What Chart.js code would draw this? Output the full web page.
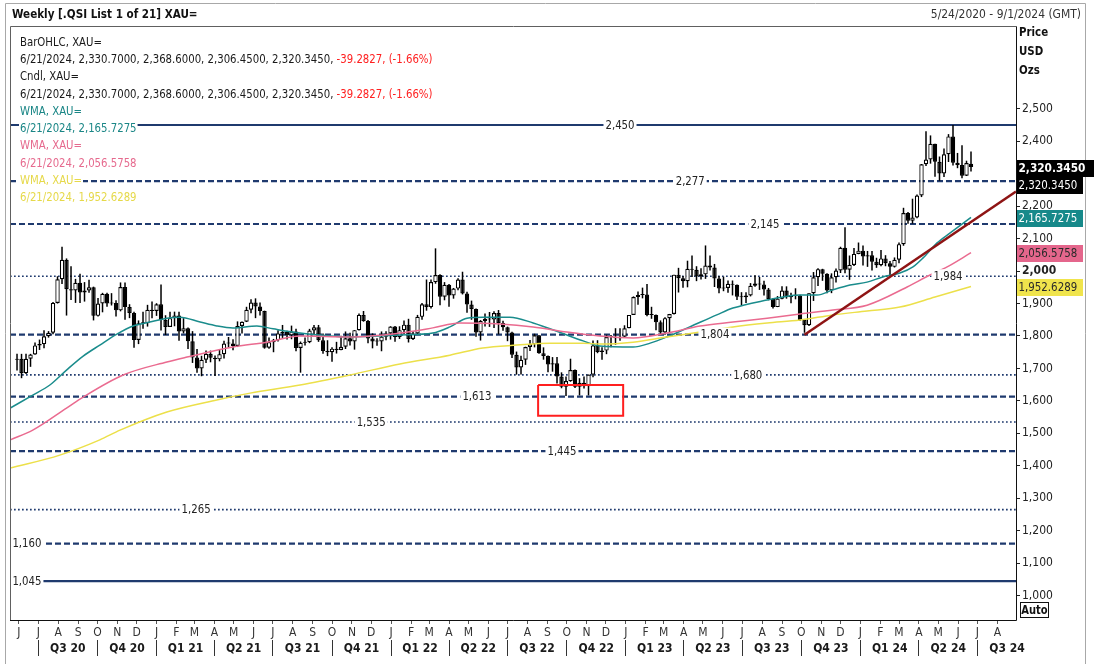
<!DOCTYPE html>
<html><head><meta charset="utf-8">
<script src="https://cdn.jsdelivr.net/npm/chart.js@4.4.1/dist/chart.umd.min.js"></script>
<style>
html,body{margin:0;padding:0;background:#fff;}
#wrap{position:relative;width:1094px;height:664px;overflow:hidden;}
canvas{display:block;}
</style></head><body>
<div id="wrap"><canvas id="c" width="1094" height="664"></canvas></div>
<script>
const FONT = "'Liberation Sans Narrow','DejaVu Sans Condensed','Liberation Sans',sans-serif";

// ---- weekly candles, first candle week ending 2020-05-29 ----
const firstCandleDate = [2020, 5, 29];
const opens = [1727,1730,1685,1730,1743,1771,1775,1799,1810,1902,1975,2035,1944,1940,1964,1934,1940,1950,1862,1900,1930,1900,1902,1879,1951,1889,1871,1788,1839,1839,1881,1877,1898,1849,1828,1855,1863,1814,1824,1784,1734,1700,1727,1745,1733,1728,1744,1777,1777,1769,1831,1844,1881,1903,1891,1877,1764,1781,1787,1808,1812,1802,1814,1763,1779,1781,1817,1827,1787,1754,1750,1761,1757,1767,1793,1783,1818,1865,1846,1792,1783,1783,1798,1808,1829,1797,1818,1835,1791,1808,1859,1898,1889,1966,1988,1921,1958,1925,1946,1974,1931,1897,1883,1811,1846,1853,1851,1871,1840,1827,1811,1742,1703,1727,1766,1775,1802,1747,1738,1712,1716,1675,1644,1661,1695,1644,1656,1645,1681,1771,1751,1755,1797,1797,1793,1798,1824,1865,1920,1926,1928,1865,1865,1842,1811,1855,1868,1989,1978,1969,2007,2004,1983,1990,2017,2011,1977,1946,1948,1961,1958,1921,1919,1925,1955,1962,1959,1943,1914,1889,1915,1940,1919,1924,1925,1849,1833,1932,1981,2006,1992,1940,1981,2002,2072,2004,2019,2053,2063,2045,2049,2029,2018,2039,2024,2013,2035,2083,2179,2155,2165,2233,2329,2344,2392,2337,2301,2360,2415,2334,2327,2294,2330.7];
const highs = [1745,1745,1745,1745,1780,1789,1818,1815,1905,1984,2075,2039,2015,1976,1992,1966,1973,1952,1917,1933,1933,1932,1910,1965,1965,1898,1875,1848,1875,1896,1906,1901,1959,1864,1875,1875,1875,1855,1826,1815,1760,1739,1755,1755,1740,1759,1785,1797,1790,1845,1845,1890,1913,1916,1903,1878,1795,1791,1818,1834,1816,1832,1822,1783,1795,1822,1834,1834,1808,1787,1765,1782,1801,1814,1810,1818,1869,1877,1849,1808,1793,1814,1815,1830,1831,1830,1848,1853,1815,1865,1902,1974,1974,2070,1990,1966,1960,1948,1978,1998,1936,1909,1885,1849,1869,1874,1876,1880,1847,1829,1813,1752,1739,1767,1788,1807,1802,1765,1740,1735,1735,1688,1675,1730,1697,1670,1675,1681,1786,1787,1765,1804,1803,1824,1824,1833,1865,1922,1937,1949,1960,1890,1866,1848,1858,1868,1989,2010,1985,2032,2048,2015,2009,2079,2048,2022,1985,1983,1971,1971,1959,1935,1935,1963,1987,1982,1970,1948,1916,1923,1953,1953,1933,1947,1927,1850,1932,1997,2009,2007,1993,1993,2008,2075,2135,2048,2071,2088,2079,2062,2062,2041,2065,2049,2031,2042,2088,2195,2182,2223,2236,2330,2431,2418,2392,2353,2378,2422,2450,2364,2388,2340,2368.6];
const lows = [1694,1670,1683,1705,1742,1757,1762,1795,1805,1900,1960,1863,1911,1902,1902,1906,1933,1848,1860,1873,1890,1894,1860,1876,1850,1855,1764,1775,1822,1829,1855,1862,1817,1803,1828,1830,1785,1808,1760,1717,1687,1676,1717,1719,1677,1722,1731,1765,1756,1766,1808,1843,1870,1855,1863,1761,1761,1750,1783,1794,1789,1790,1753,1687,1771,1778,1802,1782,1745,1738,1721,1746,1756,1760,1771,1758,1817,1844,1778,1762,1770,1753,1787,1789,1782,1791,1805,1780,1788,1806,1850,1878,1885,1961,1895,1910,1890,1915,1941,1928,1872,1850,1798,1786,1829,1828,1825,1805,1816,1784,1732,1681,1681,1711,1754,1765,1745,1727,1688,1690,1654,1639,1615,1659,1640,1617,1638,1617,1673,1747,1727,1744,1765,1773,1785,1797,1824,1865,1896,1916,1861,1853,1818,1804,1804,1809,1866,1934,1949,1950,1982,1969,1974,1976,2002,1951,1932,1938,1933,1925,1911,1893,1902,1922,1952,1942,1925,1910,1885,1889,1913,1915,1901,1913,1846,1810,1831,1908,1954,1970,1932,1932,1965,1994,1993,1973,2016,2052,2017,2013,2002,2010,2015,2015,1984,2011,2024,2078,2146,2146,2163,2228,2324,2331,2291,2278,2290,2336,2325,2317,2286,2293,2306.45];
const closes = [1730,1685,1730,1743,1771,1775,1799,1810,1902,1975,2035,1944,1940,1964,1934,1940,1950,1862,1900,1930,1900,1902,1879,1951,1889,1871,1788,1839,1839,1881,1877,1898,1849,1828,1855,1863,1814,1824,1784,1734,1700,1727,1745,1733,1728,1744,1777,1777,1769,1831,1844,1881,1903,1891,1877,1764,1781,1787,1808,1812,1802,1814,1763,1779,1781,1817,1827,1787,1754,1750,1761,1757,1767,1793,1783,1818,1865,1846,1792,1783,1783,1798,1808,1829,1797,1818,1835,1791,1808,1859,1898,1889,1966,1988,1921,1958,1925,1946,1974,1931,1897,1883,1811,1846,1853,1851,1871,1840,1827,1811,1742,1703,1727,1766,1775,1802,1747,1738,1712,1716,1675,1644,1661,1695,1644,1656,1645,1681,1771,1751,1755,1797,1797,1793,1798,1824,1865,1920,1926,1928,1865,1865,1842,1811,1855,1868,1989,1978,1969,2007,2004,1983,1990,2017,2011,1977,1946,1948,1961,1958,1921,1919,1925,1955,1962,1959,1943,1914,1889,1915,1940,1919,1924,1925,1849,1833,1932,1981,2006,1992,1940,1981,2002,2072,2004,2019,2053,2063,2045,2049,2029,2018,2039,2024,2013,2035,2083,2179,2155,2165,2233,2329,2344,2392,2337,2301,2360,2415,2334,2327,2294,2333,2320.345];

// ---- weighted moving averages (week index, price) ----
const wmaFastWeeks  = [-1.5,3.5,7.3,11,14.7,18.4,22.2,25.8,29.5,33.3,36.2,40.7,44.4,48,53.3,56.9,62.9,74,85,92.4,96.2,100,103.5,109.5,114.7,122.2,125.8,129.5,136.9,140.7,144.4,149.5,155.5,159.1,166.7,170.2,174,177.8,181.3,185.1,188.9,192.4,196.2,199.1,201.3,204.4,207.3,212];
const wmaFastValues = [1578,1618,1649,1695,1738,1772,1806,1831,1843,1855,1858,1843,1831,1825,1831,1822,1809,1797,1803,1809,1828,1855,1858,1858,1840,1803,1785,1769,1766,1778,1797,1828,1865,1886,1911,1920,1926,1926,1942,1957,1966,1982,1994,2013,2040,2086,2117,2165.7275];
const wmaMidWeeks   = [-1.5,3.5,11,14.7,23.6,33.3,37.8,48,55.5,62.9,74,85,92.4,98.4,107.3,114.7,122.2,129.5,136.9,144.4,151.8,159.1,166.7,174,181.3,188.9,197.8,202.9,206.7,212];
const wmaMidValues  = [1480,1510,1578,1612,1680,1720,1735,1766,1781,1800,1797,1809,1825,1840,1837,1828,1812,1800,1794,1809,1831,1843,1855,1868,1880,1895,1951,1988,2013,2056.5758];
const wmaSlowWeeks  = [-1.5,9.5,18.4,22.9,33.3,44.4,51.8,62.9,74,85.1,96.2,103.5,111.1,118.4,125.8,129.5,136.9,144.4,151.8,159.1,166.7,174,181.3,188.9,196.2,204,212];
const wmaSlowValues = [1393,1433,1480,1510,1566,1603,1624,1649,1680,1714,1741,1763,1772,1778,1778,1775,1781,1797,1812,1828,1840,1849,1865,1877,1889,1920,1952.6289];

// ---- horizontal levels ----
const levelValues = [2450,2277,2145,1984,1804,1680,1613,1535,1445,1265,1160,1045];
const levelKinds  = ['solid','dash','dash','dot','dash','dot','dash','dot','dash','dot','dash','solid'];
const levelLabelAt = [134,149.6,166.2,206.9,155.1,162.4,102.2,78.7,121.1,39.8,2.2,2.2];

// ---- trend line & highlight box (data units) ----
const trendWeeks = [175, 222];
const trendPrices = [1804, 2245];
const boxWeeks = [115.8, 134.7];
const boxPrices = [1554, 1649];

// ---- axis ticks ----
const yTickValues = [1000,1100,1200,1300,1400,1500,1600,1700,1800,1900,2000,2100,2200,2300,2400,2500];
const monthLabels = ['J','J','A','S','O','N','D',
  'J','F','M','A','M','J','J','A','S','O','N','D',
  'J','F','M','A','M','J','J','A','S','O','N','D',
  'J','F','M','A','M','J','J','A','S','O','N','D',
  'J','F','M','A','M','J','J','A'];
const quarterLabels = ['Q3 20','Q4 20','Q1 21','Q2 21','Q3 21','Q4 21','Q1 22','Q2 22','Q3 22','Q4 22','Q1 23','Q2 23','Q3 23','Q4 23','Q1 24','Q2 24','Q3 24'];

// ---- legend / tags ----
const lastDate = '6/21/2024';
const dayChange = -39.2827, dayChangePct = -1.66;
const wmaLast = [2165.7275, 2056.5758, 1952.6289];
const wmaColors = ['#1a8c8c', '#ea6b90', '#ece04a'];
const wmaTextColors = ['#1a8686', '#e66a8e', '#e6d94a'];

// ---------------------------------------------------------------
const t0 = Date.UTC(firstCandleDate[0], firstCandleDate[1]-1, firstCandleDate[2]);
const weekOf = (y, m, d) => (Date.UTC(y, m-1, d) - t0) / (7*86400000);
const xMin = -1.56, xMax = 222.0, yMin = 925, yMax = 2752;

const monthTickWeeks = monthLabels.map((_, i) => { const mm = 5 + i; return weekOf(2020 + Math.floor(mm/12), (mm%12)+1, 1); });
const x2Ticks = [];
quarterLabels.forEach((lab, q) => {
  const mm = 6 + 3*q, mm2 = mm + 3;
  const s = weekOf(2020 + Math.floor(mm/12), (mm%12)+1, 1);
  const e = weekOf(2020 + Math.floor(mm2/12), (mm2%12)+1, 1);
  x2Ticks.push({value: s, sep: true, lab: ''});
  x2Ticks.push({value: (s+e)/2, sep: false, lab: lab});
});

const fmt = (v, d) => v.toLocaleString('en-US', {minimumFractionDigits: d, maximumFractionDigits: d});
const pairs = (xs, ys) => xs.map((x, i) => ({x, y: ys[i]}));
const NAVY = '#1f3a6e';

const idx = opens.map((_, i) => i);
const datasets = [];
levelValues.forEach((v, i) => {
  const k = levelKinds[i];
  datasets.push({type:'line', data:[{x:xMin,y:v},{x:xMax,y:v}], borderColor:NAVY,
    borderWidth: k==='dot' ? 1.7 : 2.2, borderDash: k==='dash' ? [6,3] : (k==='dot' ? [1.7,2.3] : []),
    pointRadius:0, order:10});
});
datasets.push({type:'bar', data: idx.map(i => ({x:i, y:[lows[i], highs[i]]})), backgroundColor:'#000',
  borderWidth:0, grouped:false, categoryPercentage:1, barPercentage:1, maxBarThickness:1.5, inflateAmount:0, order:6});
datasets.push({type:'bar', data: idx.map(i => ({x:i, y:[opens[i], closes[i]]})),
  backgroundColor: idx.map(i => closes[i] >= opens[i] ? '#ffffff' : '#000000'), borderColor:'#000', borderWidth:1.2,
  borderSkipped:false, grouped:false, categoryPercentage:1, barPercentage:1, maxBarThickness:4.4, inflateAmount:0, minBarLength:1, order:5});
[[wmaSlowWeeks, wmaSlowValues], [wmaMidWeeks, wmaMidValues], [wmaFastWeeks, wmaFastValues]].forEach((s, j) => {
  datasets.push({type:'line', data: pairs(s[0], s[1]), borderColor: wmaColors[2-j], borderWidth:1.5, pointRadius:0,
    cubicInterpolationMode:'monotone', order:3});
});
datasets.push({type:'line', data: pairs(trendWeeks, trendPrices), borderColor:'#8e1414', borderWidth:2.5, pointRadius:0, order:2});
datasets.push({type:'line', data: [
  {x:boxWeeks[0], y:boxPrices[1]}, {x:boxWeeks[1], y:boxPrices[1]}, {x:boxWeeks[1], y:boxPrices[0]},
  {x:boxWeeks[0], y:boxPrices[0]}, {x:boxWeeks[0], y:boxPrices[1]}], borderColor:'#ff1f1f', borderWidth:2, pointRadius:0, order:1});

const n = opens.length - 1;
const ohlcText = `${lastDate}, ${fmt(opens[n],4)}, ${fmt(highs[n],4)}, ${fmt(lows[n],4)}, ${fmt(closes[n],4)}, `;
const chgText = `${fmt(dayChange,4)}, (${fmt(dayChangePct,2)}%)`;
const legendLines = [
  [['BarOHLC, XAU=', '#1a1a1a']],
  [[ohlcText, '#1a1a1a'], [chgText, '#ff2020']],
  [['Cndl, XAU=', '#1a1a1a']],
  [[ohlcText, '#1a1a1a'], [chgText, '#ff2020']],
  [['WMA, XAU=', wmaTextColors[0]]],
  [[`${lastDate}, ${fmt(wmaLast[0],4)}`, wmaTextColors[0]]],
  [['WMA, XAU=', wmaTextColors[1]]],
  [[`${lastDate}, ${fmt(wmaLast[1],4)}`, wmaTextColors[1]]],
  [['WMA, XAU=', wmaTextColors[2]]],
  [[`${lastDate}, ${fmt(wmaLast[2],4)}`, wmaTextColors[2]]],
];
const tags = [
  {v: closes[n], bg:'#000', fg:'#fff', bold:true, dy:0, edge:true},
  {v: closes[n], bg:'#000', fg:'#fff', bold:false, dy:17.5},
  {v: wmaLast[0], bg:'#17898a', fg:'#fff', bold:false, dy:0},
  {v: wmaLast[1], bg:'#e4668c', fg:'#2a2a2a', bold:false, dy:0},
  {v: wmaLast[2], bg:'#f0e44c', fg:'#2a2a2a', bold:false, dy:0},
];

// draw text horizontally condensed by sx; returns drawn width
function drawText(ctx, t, x, y, sx, align) {
  const w = ctx.measureText(t).width * sx;
  let left = x;
  if (align === 'center') left = x - w/2; else if (align === 'right') left = x - w;
  ctx.save(); ctx.translate(left, y); ctx.scale(sx, 1); ctx.textAlign = 'left'; ctx.fillText(t, 0, 0); ctx.restore();
  return w;
}

const overlay = {
  id: 'overlay',
  afterDatasetsDraw(chart) {
    const {ctx, scales:{x, y}} = chart;
    ctx.save();
    ctx.font = `12px ${FONT}`;
    ctx.textBaseline = 'middle';
    levelValues.forEach((v, i) => {
      const px = x.getPixelForValue(levelLabelAt[i]), py = y.getPixelForValue(v);
      const t = fmt(v, 0), w = ctx.measureText(t).width * 0.94;
      ctx.fillStyle = '#fff'; ctx.fillRect(px - w/2 - 2, py - 7, w + 4, 14);
      ctx.fillStyle = '#222'; drawText(ctx, t, px, py + 0.5, 0.94, 'center');
    });
    ctx.restore();
  },
  afterDraw(chart) {
    const {ctx, chartArea: ca, scales:{y}} = chart;
    ctx.save();
    // plot frame
    ctx.lineWidth = 1;
    ctx.strokeStyle = '#606060';
    ctx.beginPath();
    ctx.moveTo(ca.left + 0.5, ca.bottom + 0.5); ctx.lineTo(ca.left + 0.5, ca.top - 0.5); ctx.lineTo(ca.right + 0.5, ca.top - 0.5);
    ctx.stroke();
    ctx.strokeStyle = '#111';
    ctx.beginPath();
    ctx.moveTo(ca.right + 0.5, ca.top - 0.5); ctx.lineTo(ca.right + 0.5, ca.bottom + 0.5); ctx.lineTo(ca.left, ca.bottom + 0.5);
    ctx.stroke();
    // outer frame
    ctx.strokeStyle = '#a8a8a8';
    ctx.beginPath();
    ctx.moveTo(5.5, 664); ctx.lineTo(5.5, 3.5); ctx.lineTo(1085.5, 3.5); ctx.lineTo(1085.5, 664);
    ctx.stroke();
    // header
    ctx.textBaseline = 'middle';
    ctx.fillStyle = '#111';
    ctx.font = `bold 13px ${FONT}`;
    drawText(ctx, 'Weekly [.QSI List 1 of 21] XAU=', 12, 15, 0.89, 'left');
    ctx.fillStyle = '#333';
    ctx.font = `13px ${FONT}`;
    drawText(ctx, '5/24/2020 - 9/1/2024 (GMT)', 1081, 15, 0.92, 'right');
    // legend block
    ctx.font = `12px ${FONT}`;
    legendLines.forEach((segs, i) => {
      const ly = 42 + i * 17.3;
      let lx = 20;
      segs.forEach(([t, c]) => {
        const w = ctx.measureText(t).width * 0.94;
        ctx.fillStyle = '#fff'; ctx.fillRect(lx - 1, ly - 7, w + 2, 14);
        ctx.fillStyle = c; drawText(ctx, t, lx, ly + 0.5, 0.94, 'left');
        lx += w;
      });
    });
    // axis title
    ctx.font = `bold 12px ${FONT}`; ctx.fillStyle = '#111';
    ['Price', 'USD', 'Ozs'].forEach((t, i) => drawText(ctx, t, 1019, 33 + i * 19, 0.95, 'left'));
    // value tags
    tags.forEach(tg => {
      const cy = y.getPixelForValue(tg.v) + tg.dy + 1;
      const x0 = ca.right + 1, w = tg.edge ? 1094 - x0 : 66;
      const top = Math.round(cy - 8.5);
      ctx.fillStyle = tg.bg; ctx.fillRect(x0, top, w, 17);
      ctx.fillStyle = tg.fg;
      ctx.font = `${tg.bold ? 'bold ' : ''}12px ${FONT}`;
      drawText(ctx, fmt(tg.v, 4), x0 + 1.5, top + 9, tg.bold ? 0.98 : 0.95, 'left');
    });
    // Auto box
    ctx.strokeStyle = '#111'; ctx.lineWidth = 1;
    ctx.strokeRect(1020.5, 602.5, 28, 15);
    ctx.font = `bold 12px ${FONT}`; ctx.fillStyle = '#111';
    drawText(ctx, 'Auto', 1034.5, 610.5, 0.92, 'center');
    ctx.restore();
  }
};

new Chart(document.getElementById('c'), {
  type: 'bar',
  data: { datasets },
  options: {
    responsive: false, animation: false, devicePixelRatio: 1,
    layout: { padding: { left: 10, top: 27, right: 0, bottom: 0 } },
    plugins: { legend: { display: false }, tooltip: { enabled: false }, title: { display: false } },
    scales: {
      x: {
        type: 'linear', position: 'bottom', min: xMin, max: xMax, offset: false, weight: 0,
        grid: { display: true, drawOnChartArea: false, drawTicks: true, tickLength: 4, color: '#555', offset: false },
        border: { display: false },
        ticks: { autoSkip: false, maxRotation: 0, minRotation: 0, padding: 2, color: '#333',
          font: { family: FONT, size: 12 }, callback: (v, i) => monthLabels[i] },
        afterBuildTicks: a => { a.ticks = monthTickWeeks.map(v => ({ value: v })); },
        afterFit: a => { a.height = 20; a.paddingLeft = 0; a.paddingRight = 0; }
      },
      x2: {
        type: 'linear', position: 'bottom', min: xMin, max: xMax, offset: false, weight: 1,
        grid: { display: true, drawOnChartArea: false, drawTicks: true, tickLength: 16, offset: false,
          color: c => (c.tick && c.tick.sep) ? '#333' : 'rgba(0,0,0,0)' },
        border: { display: false },
        ticks: { autoSkip: false, maxRotation: 0, minRotation: 0, padding: -14, color: '#1a1a1a',
          font: { family: FONT, size: 12, weight: 'bold' }, callback: (v, i, t) => (t[i] && t[i].lab) || '' },
        afterBuildTicks: a => { a.ticks = x2Ticks.map(t => ({ value: t.value, sep: t.sep, lab: t.lab })); },
        afterFit: a => { a.height = 24; a.paddingLeft = 0; a.paddingRight = 0; }
      },
      y: {
        type: 'linear', position: 'right', min: yMin, max: yMax,
        grid: { display: true, drawOnChartArea: false, drawTicks: true, tickLength: 4, color: '#222' },
        border: { display: false },
        ticks: { padding: 2, color: '#222',
          font: c => ({ family: FONT, size: 12, weight: (c.tick && c.tick.value === 2000) ? 'bold' : 'normal' }),
          callback: v => v.toLocaleString('en-US') },
        afterBuildTicks: a => { a.ticks = yTickValues.map(v => ({ value: v })); },
        afterFit: a => { a.width = 78; a.paddingTop = 0; a.paddingBottom = 0; }
      }
    }
  },
  plugins: [overlay]
});
</script>
</body></html>
